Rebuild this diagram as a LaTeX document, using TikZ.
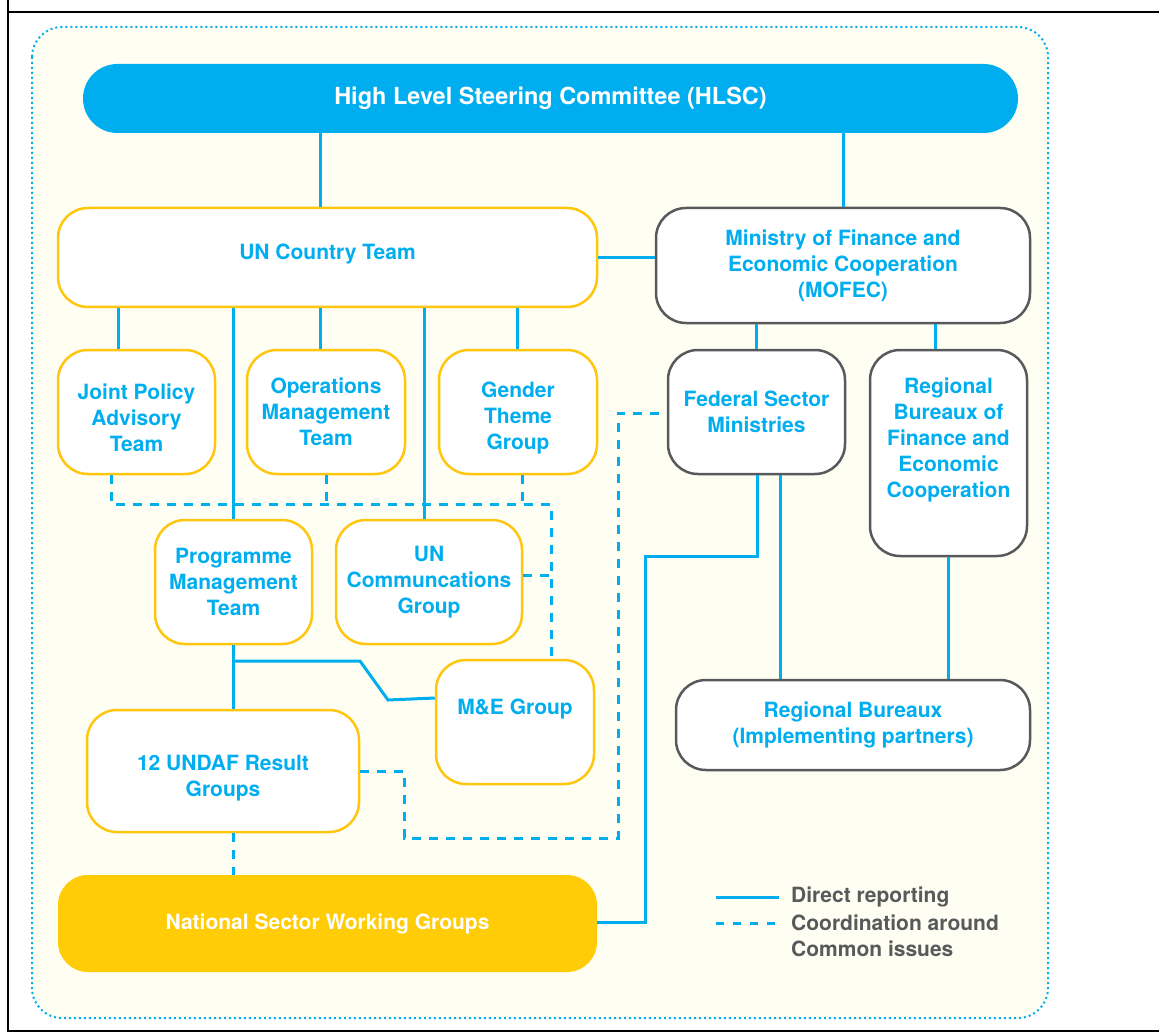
\documentclass[tikz,border=0pt]{standalone}
\usepackage{fontspec}
\setmainfont{TeX Gyre Heros}
\definecolor{uncyan}{HTML}{00AEEF}
\definecolor{unyellow}{HTML}{FFC60F}
\definecolor{ungold}{HTML}{FFCC05}
\definecolor{ungray}{HTML}{58595B}
\definecolor{uncream}{HTML}{FEFEF3}
\begin{document}
\begin{tikzpicture}[x=1pt,y=-1pt,font=\fontsize{21}{26}\selectfont\bfseries]
  \tikzstyle{unbox}=[draw=unyellow,line width=2.5pt,fill=white,rounded corners=30pt,text=uncyan,align=center,inner sep=0pt]
  \tikzstyle{govbox}=[draw=ungray,line width=2.5pt,fill=white,rounded corners=30pt,text=uncyan,align=center,inner sep=0pt]
  \tikzstyle{direct}=[draw=uncyan,line width=3pt]
  \tikzstyle{coord}=[draw=uncyan,line width=3pt,dash pattern=on 9pt off 8pt]
  \useasboundingbox (0,0) rectangle (1159,1032);
  % frame and panel
  \draw[line width=2.5pt] (8,0) -- (8,1031) -- (1159,1031);
  \draw[line width=2.5pt] (8,12) -- (1159,12);
  \draw[draw=uncyan,fill=uncream,line width=2pt,dash pattern=on 2pt off 3pt,rounded corners=30pt] (32,27) rectangle (1048,1018);
  % boxes
  \node[fill=uncyan,text=white,rounded corners=34.5pt,minimum width=935pt,minimum height=69pt,inner sep=0pt,font=\fontsize{23.5}{26}\selectfont\bfseries] (HLSC) at (550.5,98.5) {High Level Steering Committee (HLSC)};
  \node[unbox,minimum width=539pt,minimum height=99pt,text depth=12pt] (UNCT) at (327.5,257.5) {UN Country Team};
  \node[govbox,minimum width=374pt,minimum height=115pt] (MOFEC) at (843,265.5) {Ministry of Finance and\\Economic Cooperation\\(MOFEC)};
  \node[unbox,minimum width=157pt,minimum height=124pt,text height=80pt] (JPAT) at (136.5,412) {Joint Policy\\Advisory\\Team};
  \node[unbox,minimum width=158pt,minimum height=124pt] (OMT) at (326,412) {Operations\\Management\\Team};
  \node[unbox,minimum width=158pt,minimum height=124pt,text height=80pt] (GTG) at (518,412) {Gender\\Theme\\Group};
  \node[govbox,minimum width=177pt,minimum height=124pt] (FSM) at (756.5,412) {Federal Sector\\Ministries};
  \node[govbox,minimum width=157pt,minimum height=206pt,text depth=30pt] (RBFEC) at (948.5,453) {Regional\\Bureaux of\\Finance and\\Economic\\Cooperation};
  \node[unbox,minimum width=157pt,minimum height=124pt] (PMT) at (233.5,582) {Programme\\Management\\Team};
  \node[unbox,minimum width=186pt,minimum height=124pt] (UNCG) at (429,582) {UN\\Communcations\\Group};
  \node[unbox,minimum width=158pt,minimum height=124pt,text depth=30pt] (ME) at (515,722) {M\&E Group};
  \node[unbox,minimum width=272pt,minimum height=122pt,text height=55pt] (UNDAF) at (223,771) {12 UNDAF Result\\Groups};
  \node[fill=ungold,text=white,rounded corners=30pt,minimum width=539pt,minimum height=97pt,inner sep=0pt] (NSWG) at (327.5,923.5) {National Sector Working Groups};
  \node[govbox,minimum width=354pt,minimum height=90pt] (RB) at (853,725) {Regional Bureaux\\(Implementing partners)};
  % direct reporting
  \draw[direct] (HLSC.south -| 320,0) -- (UNCT.north -| 320,0);
  \draw[direct] (HLSC.south -| MOFEC.north) -- (MOFEC.north);
  \draw[direct] (UNCT.east |- 0,258) -- (MOFEC.west |- 0,258);
  \draw[direct] (UNCT.south -| 118,0) -- (JPAT.north -| 118,0);
  \draw[direct] (UNCT.south -| 320,0) -- (OMT.north -| 320,0);
  \draw[direct] (UNCT.south -| 517,0) -- (GTG.north -| 517,0);
  \draw[direct] (UNCT.south -| PMT.north) -- (PMT.north);
  \draw[direct] (UNCT.south -| 424,0) -- (UNCG.north -| 424,0);
  \draw[direct] (MOFEC.south -| FSM.north) -- (FSM.north);
  \draw[direct] (MOFEC.south -| 935,0) -- (RBFEC.north -| 935,0);
  \draw[direct] (PMT.south) -- (UNDAF.north -| PMT.south);
  \draw[direct] (233,661) -- (360,661) -- (388,700) -- (ME.west |- 0,698);
  \draw[direct] (FSM.south -| 757,0) -- (757,556) -- (645,556) -- (645,922) -- (NSWG.east |- 0,922);
  \draw[direct] (FSM.south -| 780,0) -- (RB.north -| 780,0);
  \draw[direct] (RBFEC.south) -- (RB.north -| RBFEC.south);
  % coordination
  \draw[coord] (JPAT.south -| 111,0) -- (111,504) -- (551,504) -- (ME.north -| 551,0);
  \draw[coord] (OMT.south) -- (OMT.south |- 0,504);
  \draw[coord] (GTG.south -| 522,0) -- (522,504);
  \draw[coord] (UNCG.east |- 0,575) -- (551,575);
  \draw[coord] (UNDAF.east |- 0,771) -- (404,771) -- (404,838) -- (618,838) -- (618,413) -- (FSM.west |- 0,413);
  \draw[coord] (UNDAF.south -| 233,0) -- (NSWG.north -| 233,0);
  % legend
  \coordinate (directA) at (716,897);
  \coordinate (directB) at (779,897);
  \coordinate (coordA) at (716,923);
  \coordinate (coordB) at (779,923);
  \draw[direct] (directA) -- (directB);
  \draw[coord,dash pattern=on 8pt off 9pt] (coordA) -- (coordB);
  \node[anchor=west,text=ungray,inner sep=0pt] (directlabel) at (791,897) {Direct reporting};
  \node[anchor=north west,text=ungray,inner sep=0pt,align=left] (coordlabel) at (791,915) {Coordination around\\Common issues};
\end{tikzpicture}
\end{document}
